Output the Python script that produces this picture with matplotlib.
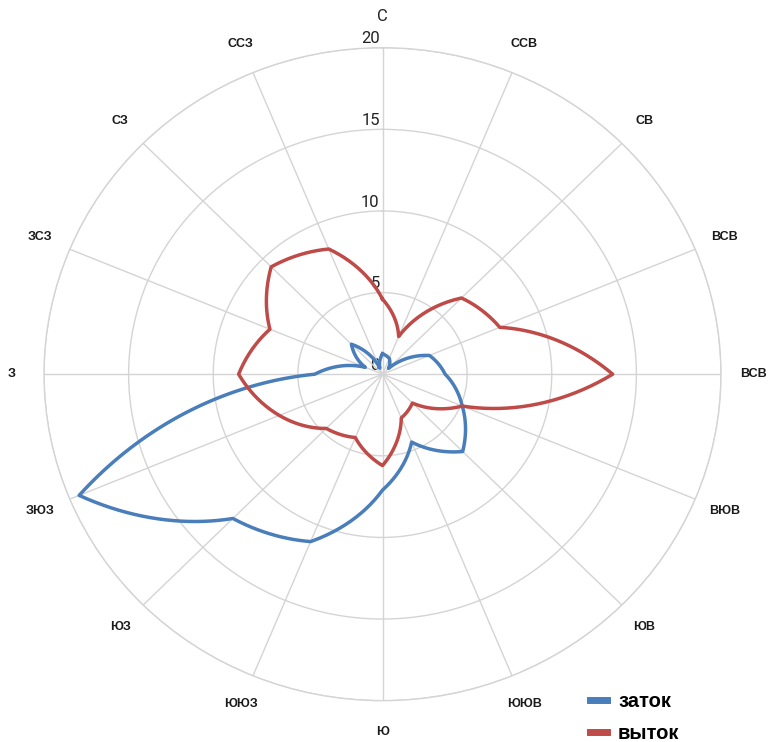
import numpy as np
import matplotlib
matplotlib.use("Agg")
import matplotlib.pyplot as plt

# направления (по часовой стрелке от севера), подписи как на оригинале
napravleniya = ['С', 'ССВ', 'СВ', 'ВСВ', 'ВСВ', 'ВЮВ', 'ЮВ', 'ЮЮВ',
                'Ю', 'ЮЮЗ', 'ЮЗ', 'ЗЮЗ', 'З', 'ЗСЗ', 'СЗ', 'ССЗ']
zatok = [1.25, 1.05, 0.5, 3.0, 3.7, 5.1, 6.7, 4.5,
         7.1, 11.1, 12.5, 19.4, 4.0, 1.1, 2.6, 0.4]
vytok = [4.6, 2.5, 6.6, 7.5, 13.6, 5.1, 2.5, 2.9,
         5.6, 4.2, 4.7, 6.6, 8.5, 7.2, 9.3, 8.3]
escala = [0, 5, 10, 15, 20]

fig = plt.figure(figsize=(7.69, 7.42), dpi=100)
ax = fig.add_axes([0.0572, 0.0557, 0.8804, 0.880], projection='polar')
ax.set_aspect('auto')
ax.set_theta_zero_location('N')
ax.set_theta_direction(-1)

angulos = np.linspace(0, 2 * np.pi, len(napravleniya), endpoint=False)
ang_cerrado = np.append(angulos, 2 * np.pi)

l1, = ax.plot(ang_cerrado, zatok + zatok[:1], color='#4a7ebb', lw=2.5, label='заток', zorder=3)
l2, = ax.plot(ang_cerrado, vytok + vytok[:1], color='#be4b48', lw=2.5, label='выток', zorder=3)
# segmentos curvos en coordenadas polares (como en el original)
for l in (l1, l2):
    l.get_path()._interpolation_steps = 40

ax.set_ylim(0, 20)
ax.set_xticks(angulos)
ax.set_xticklabels([])
ax.set_yticks(escala[1:])
ax.set_yticklabels([])
ax.grid(True, color='#d4d4d4', lw=1)
ax.spines['polar'].set_color('#d4d4d4')
ax.spines['polar'].set_linewidth(1)

for v in escala:
    ax.annotate(str(v), xy=(0, v), xytext=(-2, 1), textcoords='offset points',
                ha='right', va='bottom', fontsize=12, family='Roboto',
                color='#222222', zorder=1)

for i, (a, txt) in enumerate(zip(angulos, napravleniya)):
    if i == 0:
        ax.text(a, 21.9, txt, ha='center', va='center', fontsize=12,
                family='Roboto', color='#222222')
    else:
        ax.text(a, 21.9, txt, ha='center', va='center', fontsize=9,
                family='Liberation Sans', fontweight='bold', color='#1a1a1a')

fig.legend(loc='upper left', bbox_to_anchor=(0.767, 0.067), frameon=False,
           handlelength=0.85, handletextpad=0.55, labelspacing=0.64,
           borderpad=0, borderaxespad=0,
           prop={'family': 'Liberation Sans', 'weight': 'bold', 'size': 14.5})
for linea in fig.legends[0].get_lines():
    linea.set_linewidth(5)

fig.savefig('out.png', dpi=100)
